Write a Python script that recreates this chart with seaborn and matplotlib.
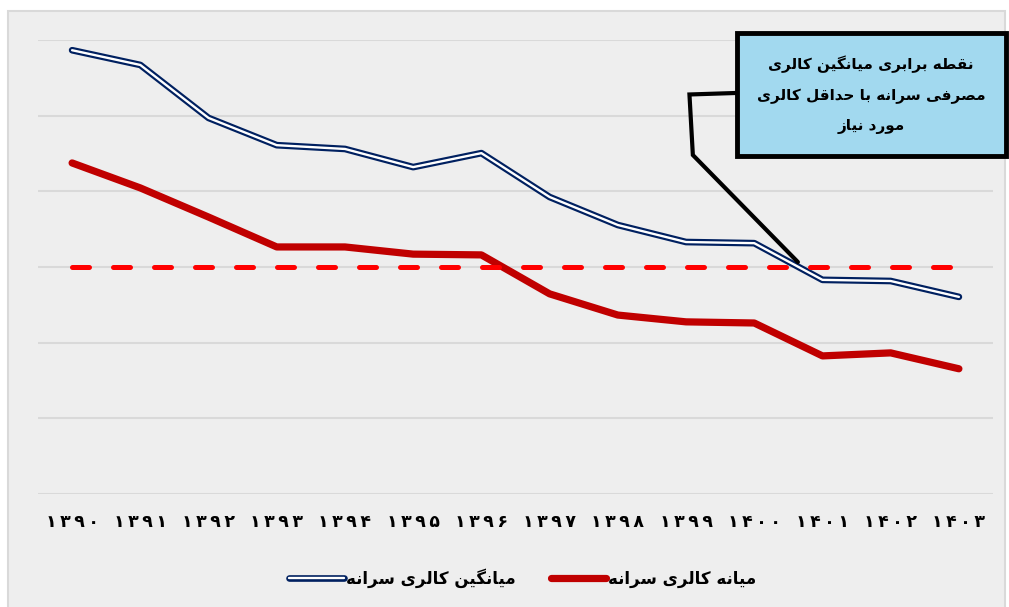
import matplotlib
matplotlib.use("Agg")
import matplotlib.pyplot as plt
import seaborn as sns
import pandas as pd
from matplotlib.patches import Rectangle

# data (kcal per person per day, estimated)
years = ["۱۳۹۰", "۱۳۹۱", "۱۳۹۲", "۱۳۹۳", "۱۳۹۴", "۱۳۹۵", "۱۳۹۶",
         "۱۳۹۷", "۱۳۹۸", "۱۳۹۹", "۱۴۰۰", "۱۴۰۱", "۱۴۰۲", "۱۴۰۳"]
avg_kcal = [2673, 2634, 2494, 2422, 2412, 2364, 2401,
            2285, 2211, 2166, 2163, 2066, 2063, 2021]
median_kcal = [2375, 2309, 2232, 2153, 2153, 2134, 2132,
               2029, 1973, 1955, 1952, 1865, 1873, 1831]
min_kcal = 2100

avg_label = "میانگین کالری سرانه"
median_label = "میانه کالری سرانه"
note_lines = ["نقطه برابری میانگین کالری", "مصرفی سرانه با حداقل کالری", "مورد نیاز"]

# matplotlib has no arabic shaping, so pick presentation forms by hand
FORMS = {
    "ا": ("\uFE8D", "\uFE8E", None, None),
    "ب": ("\uFE8F", "\uFE90", "\uFE91", "\uFE92"),
    "ت": ("\uFE95", "\uFE96", "\uFE97", "\uFE98"),
    "ح": ("\uFEA1", "\uFEA2", "\uFEA3", "\uFEA4"),
    "د": ("\uFEA9", "\uFEAA", None, None),
    "ر": ("\uFEAD", "\uFEAE", None, None),
    "ز": ("\uFEAF", "\uFEB0", None, None),
    "س": ("\uFEB1", "\uFEB2", "\uFEB3", "\uFEB4"),
    "ص": ("\uFEB9", "\uFEBA", "\uFEBB", "\uFEBC"),
    "ط": ("\uFEC1", "\uFEC2", "\uFEC3", "\uFEC4"),
    "ف": ("\uFED1", "\uFED2", "\uFED3", "\uFED4"),
    "ق": ("\uFED5", "\uFED6", "\uFED7", "\uFED8"),
    "ک": ("\uFB8E", "\uFB8F", "\uFB90", "\uFB91"),
    "گ": ("\uFB92", "\uFB93", "\uFB94", "\uFB95"),
    "ل": ("\uFEDD", "\uFEDE", "\uFEDF", "\uFEE0"),
    "م": ("\uFEE1", "\uFEE2", "\uFEE3", "\uFEE4"),
    "ن": ("\uFEE5", "\uFEE6", "\uFEE7", "\uFEE8"),
    "ه": ("\uFEE9", "\uFEEA", "\uFEEB", "\uFEEC"),
    "و": ("\uFEED", "\uFEEE", None, None),
    "ی": ("\uFBFC", "\uFBFD", "\uFBFE", "\uFBFF"),
}


def fa(text):
    out = []
    for i, c in enumerate(text):
        if c not in FORMS:
            out.append(c)
            continue
        iso, fin, ini, med = FORMS[c]
        prev = text[i - 1] if i > 0 else ""
        nxt = text[i + 1] if i + 1 < len(text) else ""
        jp = prev in FORMS and FORMS[prev][2] is not None
        jn = ini is not None and nxt in FORMS
        if jp and jn:
            out.append(med)
        elif jp:
            out.append(fin)
        elif jn:
            out.append(ini)
        else:
            out.append(iso)
    return "".join(reversed(out))


sns.set_style("white")
plt.rcParams["font.family"] = ["DejaVu Sans"]
plt.rcParams["text.color"] = "black"
plt.rcParams["xtick.color"] = "black"

df = pd.DataFrame({"year": years, "avg": avg_kcal, "median": median_kcal})
df["i"] = range(len(df))

fig = plt.figure(figsize=(10.09, 6.07), dpi=100)
fig.patch.set_facecolor("white")
fig.patches.append(Rectangle((8 / 1009, -0.01), 1 - 12 / 1009, 1 - 11 / 607 + 0.01,
                             transform=fig.transFigure, facecolor="#eeeeee",
                             edgecolor="#d9d9d9", lw=1.5, zorder=-10))
ax = fig.add_axes([38 / 1009, 113 / 607, 955 / 1009, 454 / 607])
ax.set_facecolor("none")

sns.lineplot(data=df, x="i", y="median", ax=ax, color="#c00000", lw=5.2,
             solid_capstyle="round", solid_joinstyle="round", zorder=3)
sns.lineplot(data=df, x="i", y="avg", ax=ax, color="#002060", lw=4.8,
             solid_capstyle="round", solid_joinstyle="round", zorder=4)
sns.lineplot(data=df, x="i", y="avg", ax=ax, color="white", lw=1.7,
             solid_capstyle="round", solid_joinstyle="round", zorder=5)
ax.hlines(min_kcal, 0, len(years) - 1, color="#ff0000", lw=3.6,
          linestyles=(0, (3.4, 4.8)), capstyle="round", zorder=6)

ax.set_xlim(-0.5, len(years) - 0.5)
ax.set_ylim(1500, 2700)
ax.set_yticks(range(1500, 2701, 200))
ax.set_yticklabels([])
ax.grid(axis="y", color="#d9d9d9", lw=1.5)
ax.set_axisbelow(True)
ax.tick_params(axis="both", length=0)
ax.set_xticks(df["i"])
ax.set_xticklabels(["\u2009".join(y) for y in years], fontsize=12.5, fontweight="bold")
ax.tick_params(axis="x", pad=14)
ax.set_xlabel("")
ax.set_ylabel("")
sns.despine(ax=ax, left=True, bottom=True)

# callout box
ax.add_patch(Rectangle((9.74, 2393), 3.95, 325, facecolor="#a2d9ef", edgecolor="black",
                       lw=3.5, clip_on=False, zorder=7))
ax.text(11.715, 2555, "\n".join(fa(s) for s in note_lines), ha="center", va="center",
        fontsize=11, fontweight="bold", linespacing=2.2, zorder=8, clip_on=False)
ax.plot([9.74, 9.05, 9.1, 10.64], [2560, 2556, 2396, 2113], color="black", lw=3,
        solid_joinstyle="miter", zorder=7, clip_on=False)

navy = plt.Line2D([], [], color="#002060", lw=4.8, solid_capstyle="round")
white = plt.Line2D([], [], color="white", lw=1.7, solid_capstyle="round")
red = plt.Line2D([], [], color="#c00000", lw=5.2, solid_capstyle="round")
fig.legend([(navy, white), red], [fa(avg_label), fa(median_label)], ncol=2,
           loc="center", bbox_to_anchor=(0.518, 1 - 578 / 607), frameon=False,
           prop={"size": 12, "weight": "bold"}, handlelength=3.3,
           columnspacing=2.1, handletextpad=0.15)

fig.savefig("out.png", dpi=100)
